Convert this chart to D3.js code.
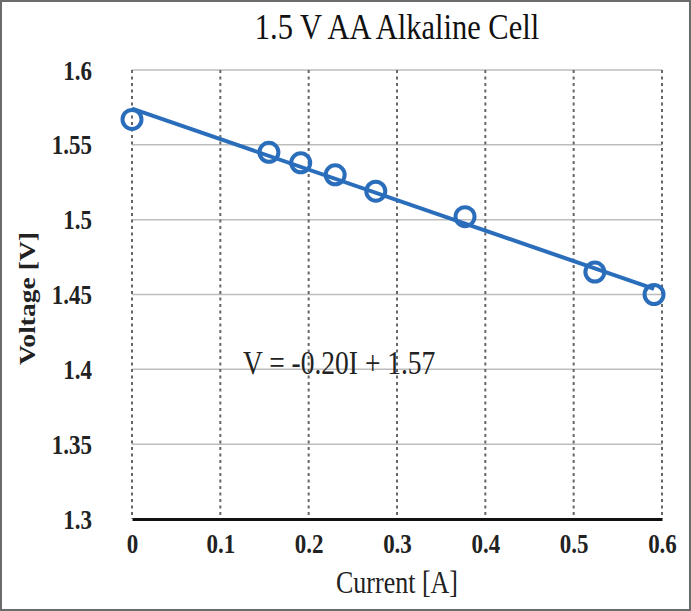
<!DOCTYPE html>
<html>
<head>
<meta charset="utf-8">
<script src="https://cdn.jsdelivr.net/npm/d3@7"></script>
<style>
  body { margin: 0; background: #fff; }
  svg { display: block; font-family: "Liberation Serif", "Times New Roman", serif; }
</style>
</head>
<body>
<div id="chart"></div>
<script>
// measured points, current [A] vs voltage [V]
const current = [0, 0.155, 0.191, 0.230, 0.276, 0.377, 0.524, 0.591]
const voltage = [1.567, 1.545, 1.538, 1.530, 1.519, 1.502, 1.465, 1.450]
const xTicks = [0, 0.1, 0.2, 0.3, 0.4, 0.5, 0.6]
const yTicks = [1.3, 1.35, 1.4, 1.45, 1.5, 1.55, 1.6]
const title = '1.5 V AA Alkaline Cell'
const equation = 'V = -0.20I + 1.57'

const width = 691, height = 611
const margin = { top: 70, right: 29, bottom: 92, left: 132 }
const blue = '#2a6ebb'
const stretchY = 1.2  // the source text is a bit taller than plain Times

const svg = d3.select('#chart').append('svg')
    .attr('width', width)
    .attr('height', height)

svg.append('rect')
    .attr('x', 1).attr('y', 1)
    .attr('width', width - 2).attr('height', height - 2)
    .attr('fill', '#fff')
    .attr('stroke', '#6b6b6b')
    .attr('stroke-width', 2)

const x = d3.scaleLinear().domain([0, 0.6]).range([margin.left, width - margin.right])
const y = d3.scaleLinear().domain([1.3, 1.6]).range([height - margin.bottom, margin.top])

// put a text at (tx,ty) with its glyphs stretched vertically
function place(sel, tx, ty, sx, sy) {
    sel.attr('x', null).attr('y', null)
        .attr('transform', `translate(${tx},${ty}) scale(${sx},${sy})`)
}

// horizontal gridlines
svg.append('g')
    .selectAll('line')
    .data(yTicks.slice(1))
    .join('line')
    .attr('x1', x(0)).attr('x2', x(0.6))
    .attr('y1', d => y(d)).attr('y2', d => y(d))
    .attr('stroke', '#bdbdbd')
    .attr('stroke-width', 1.5)

// vertical dashed gridlines
svg.append('g')
    .selectAll('line')
    .data(xTicks)
    .join('line')
    .attr('x1', d => x(d)).attr('x2', d => x(d))
    .attr('y1', y(1.6)).attr('y2', y(1.3))
    .attr('stroke', '#666')
    .attr('stroke-width', 2)
    .attr('stroke-dasharray', '3,3.5')

// x axis
const xAxis = svg.append('g')
    .attr('transform', `translate(0,${y(1.3)})`)
    .call(d3.axisBottom(x).tickValues(xTicks).tickSize(0).tickFormat(d3.format('')))
xAxis.select('.domain').attr('stroke', '#111').attr('stroke-width', 3)
xAxis.selectAll('text')
    .attr('font-size', 23).attr('font-weight', 'bold')
    .attr('font-family', '"Liberation Serif", serif').attr('fill', '#222')
    .attr('dy', null)
    .each(function () { place(d3.select(this), 0, 34, 1, stretchY) })

// y axis labels only
const yAxis = svg.append('g')
    .attr('transform', `translate(${x(0)},0)`)
    .call(d3.axisLeft(y).tickValues(yTicks).tickSize(0).tickFormat(d3.format('')))
yAxis.select('.domain').remove()
yAxis.selectAll('text')
    .attr('font-size', 23).attr('font-weight', 'bold')
    .attr('font-family', '"Liberation Serif", serif').attr('fill', '#222')
    .attr('dy', null)
    .each(function () { place(d3.select(this), -40, 9, 1, stretchY) })

// linear trendline (least squares)
const mx = d3.mean(current), my = d3.mean(voltage)
const slope = d3.sum(current, (c, i) => (c - mx) * (voltage[i] - my)) / d3.sum(current, c => (c - mx) ** 2)
const icpt = my - slope * mx
const ext = d3.extent(current)
svg.append('path')
    .datum(ext)
    .attr('d', d3.line().x(d => x(d)).y(d => y(icpt + slope * d)))
    .attr('stroke', blue)
    .attr('stroke-width', 4)
    .attr('fill', 'none')

// markers
svg.append('g')
    .selectAll('circle')
    .data(current.map((c, i) => ({ c, v: voltage[i] })))
    .join('circle')
    .attr('cx', d => x(d.c))
    .attr('cy', d => y(d.v))
    .attr('r', 9.5)
    .attr('fill', 'none')
    .attr('stroke', blue)
    .attr('stroke-width', 4)

svg.append('text')
    .attr('font-size', 27.5)
    .attr('fill', '#222')
    .text(equation)
    .call(place, 243, 374, 1, stretchY)

svg.append('text')
    .attr('text-anchor', 'middle')
    .attr('font-size', 30.5)
    .attr('fill', '#111')
    .text(title)
    .call(place, 397, 39, 1, stretchY)

svg.append('text')
    .attr('text-anchor', 'middle')
    .attr('font-size', 26)
    .attr('fill', '#222')
    .text('Current [A]')
    .call(place, 397, 593, 1, stretchY)

svg.append('text')
    .attr('text-anchor', 'middle')
    .attr('font-size', 23)
    .attr('font-weight', 'bold')
    .attr('fill', '#222')
    .text('Voltage [V]')
    .attr('transform', `translate(35,${(y(1.3) + y(1.6)) / 2 + 4}) rotate(-90) scale(${stretchY},1)`)
</script>
</body>
</html>
